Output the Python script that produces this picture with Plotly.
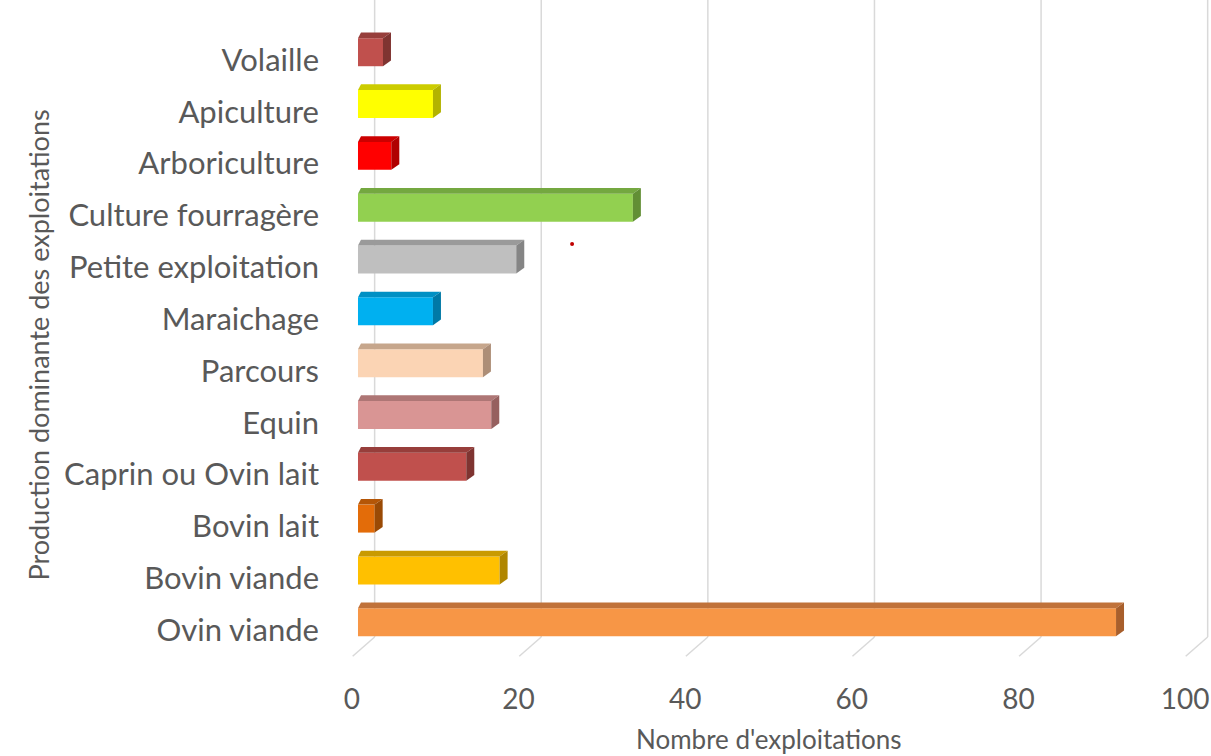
import plotly.graph_objects as go

# ---------------- data ----------------
categories = ["Ovin viande", "Bovin viande", "Bovin lait", "Caprin ou Ovin lait",
              "Equin", "Parcours", "Maraichage", "Petite exploitation",
              "Culture fourragère", "Arboriculture", "Apiculture", "Volaille"]
values = [91, 17, 2, 13, 16, 15, 9, 19, 33, 4, 9, 3]
x_ticks = [0, 20, 40, 60, 80, 100]
x_tick_labels = ["0", "20", "40", "60", "80", "100"]
front_colors = ["#F79646", "#FFC000", "#E36C09", "#C0504D", "#D99594", "#FBD4B4",
                "#00B0F0", "#BFBFBF", "#92D050", "#FF0000", "#FFFF00", "#C0504D"]
top_colors = ["#C0723A", "#C99A00", "#B45607", "#973E3B", "#AE7675", "#C6A68C",
              "#0090C4", "#9A9A9A", "#74A840", "#CC0000", "#CCCC00", "#973E3B"]
side_colors = ["#A85F2C", "#B08600", "#9A4A05", "#7F3431", "#96605F", "#AD8E77",
               "#0079A6", "#858585", "#628F35", "#B00000", "#B3B300", "#7F3431"]
stray_x = [25.7]
stray_y = [7.45]

# ---------------- styling constants ----------------
BAR_W = 0.54      # bar thickness (category units)
BAR_SHIFT = 0.15  # front face drawn slightly above its label
DX_R = 0.96       # depth, right edge (x units)
DX_L = 0.36       # depth, left edge (x units)
DY = 0.11         # depth, vertical (category units)
WALL = 2.0        # back wall offset of gridlines (x units)
FLOOR = -0.136
SLANT_DX = 2.64
SLANT_DY = 0.37
X_RANGE = [-3.36, 102.4]
Y_RANGE = [-0.579, 12.158]
FONT = "Lato, Carlito, Calibri, sans-serif"
TXT = "#595959"

fig = go.Figure()

pos = [i + BAR_SHIFT for i in range(len(categories))]

# front faces
fig.add_trace(go.Bar(
    x=values, y=pos, orientation="h", width=BAR_W,
    marker=dict(color=front_colors, line=dict(width=0)),
    hoverinfo="skip", showlegend=False))

# top and side faces (derived from the values)
for v, p, tc, sc in zip(values, pos, top_colors, side_colors):
    yt = p + BAR_W / 2
    yb = p - BAR_W / 2
    fig.add_trace(go.Scatter(
        x=[0, v, v + DX_R, DX_L, 0], y=[yt, yt, yt + DY, yt + DY, yt],
        fill="toself", fillcolor=tc, mode="lines", line=dict(width=0, color=tc),
        hoverinfo="skip", showlegend=False))
    fig.add_trace(go.Scatter(
        x=[v, v + DX_R, v + DX_R, v, v], y=[yb, yb + DY, yt + DY, yt, yb],
        fill="toself", fillcolor=sc, mode="lines", line=dict(width=0, color=sc),
        hoverinfo="skip", showlegend=False))

# stray dot visible in the reference
fig.add_trace(go.Scatter(x=stray_x, y=stray_y, mode="markers",
                         marker=dict(size=4, color="#C00000"),
                         hoverinfo="skip", showlegend=False))

# 3D-style gridlines: back wall verticals + slanted floor lines
shapes = []
for t in x_ticks:
    shapes.append(dict(type="line", xref="x", yref="y", layer="below",
                       x0=t + WALL, x1=t + WALL, y0=FLOOR, y1=Y_RANGE[1] + 1,
                       line=dict(color="#D9D9D9", width=1.5)))
    shapes.append(dict(type="line", xref="x", yref="y", layer="below",
                       x0=t + WALL, x1=t + WALL - SLANT_DX,
                       y0=FLOOR, y1=FLOOR - SLANT_DY,
                       line=dict(color="#D9D9D9", width=1.5)))

fig.update_layout(
    width=1211, height=756,
    margin=dict(l=330, r=0, t=0, b=96),
    paper_bgcolor="white", plot_bgcolor="white",
    shapes=shapes,
    font=dict(family=FONT, color=TXT),
    xaxis=dict(range=X_RANGE, showgrid=False, zeroline=False, showline=False,
               tickvals=x_ticks, ticktext=x_tick_labels, ticks="",
               tickfont=dict(size=28, color=TXT, family=FONT),
               ticklabelshift=-6, ticklabelstandoff=20, fixedrange=True),
    yaxis=dict(range=Y_RANGE, showgrid=False, zeroline=False, showline=False,
               tickvals=list(range(len(categories))), ticktext=categories,
               ticks="", tickfont=dict(size=31, color=TXT, family=FONT),
               ticklabelstandoff=10, fixedrange=True),
    annotations=[
        dict(text="Nombre d'exploitations", xref="paper", yref="paper",
             x=0.498, y=-0.1455, xanchor="center", yanchor="bottom",
             showarrow=False, borderpad=0,
             font=dict(size=26, color=TXT, family=FONT)),
        dict(text="Production dominante des exploitations", xref="paper", yref="paper",
             x=-0.331, y=0.477, xanchor="center", yanchor="middle", textangle=-90,
             showarrow=False, font=dict(size=27, color=TXT, family=FONT)),
    ],
)

fig.write_html("out.html")
